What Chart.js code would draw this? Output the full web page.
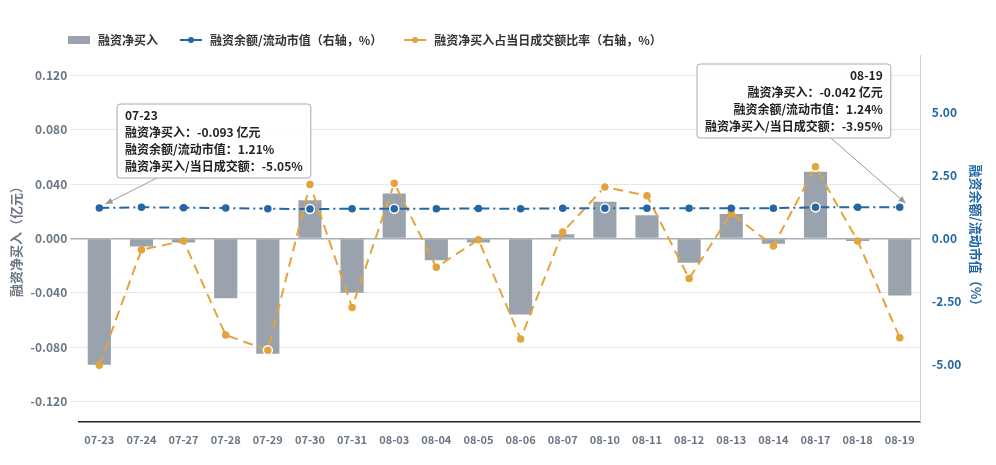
<!DOCTYPE html>
<html><head><meta charset="utf-8">
<script src="https://cdn.jsdelivr.net/npm/chart.js@4/dist/chart.umd.min.js"></script>
<style>body{margin:0;background:#fff}#w{width:996px;height:465px}</style></head>
<body><div id="w"><canvas id="c"></canvas></div>
<script>
const categories=['07-23','07-24','07-27','07-28','07-29','07-30','07-31','08-03','08-04','08-05','08-06','08-07','08-10','08-11','08-12','08-13','08-14','08-17','08-18','08-19'];
const netBuy=[-0.093,-0.006,-0.003,-0.044,-0.085,0.028,-0.040,0.033,-0.016,-0.003,-0.056,0.003,0.027,0.017,-0.018,0.018,-0.004,0.049,-0.002,-0.042];
const marginRatio=[1.21,1.24,1.22,1.21,1.18,1.17,1.18,1.18,1.18,1.19,1.18,1.2,1.2,1.2,1.2,1.2,1.2,1.24,1.24,1.24];
const buyRatio=[-5.05,-0.45,-0.1,-3.85,-4.45,2.15,-2.75,2.2,-1.15,-0.05,-4.0,0.25,2.05,1.7,-1.6,1.0,-0.3,2.85,-0.1,-3.95];
const leftTicks=[-0.12,-0.08,-0.04,0,0.04,0.08,0.12];
const rightTicks=[-5,-2.5,0,2.5,5];
const notes=[{i:0,lines:['07-23','融资净买入：-0.093 亿元','融资余额/流动市值：1.21%','融资净买入/当日成交额：-5.05%'],align:'left',bx:117,by:104},
{i:19,lines:['08-19','融资净买入：-0.042 亿元','融资余额/流动市值：1.24%','融资净买入/当日成交额：-3.95%'],align:'right',bx:697,by:64}];
const F='"Noto Sans CJK SC","Noto Sans",sans-serif';
const hl=[4,5,7,12,17];
const bc=(c)=>categories.map((_,i)=>hl.includes(i)?'#fff':c);
const legendPlugin={id:'lg',afterDraw(ch){const x=ch.ctx;x.save();x.font='bold 12px '+F;x.textBaseline='middle';let cx=68;const cy=40;
ch.data.datasets.forEach((d,i)=>{if(i===0){x.fillStyle=d.backgroundColor;x.fillRect(cx,cy-4,22,8);}else{x.strokeStyle=d.borderColor;x.lineWidth=2;x.beginPath();x.moveTo(cx,cy);x.lineTo(cx+22,cy);x.stroke();x.fillStyle=d.borderColor;x.beginPath();x.arc(cx+11,cy,3,0,7);x.fill();}
x.fillStyle='#333';x.fillText(d.label,cx+30,cy);cx+=30+x.measureText(d.label).width+22;});x.restore();}};
const notePlugin={id:'notes',afterDraw(ch){const x=ch.ctx;
notes.forEach(n=>{const p=ch.getDatasetMeta(1).data[n.i];
x.save();x.font='bold 12px '+F;const w=Math.max(...n.lines.map(l=>x.measureText(l).width))+16;const h=n.lines.length*17+6;
const ax=n.align==='left'?n.bx+40:n.bx+w-60, ay=n.by+h;
x.strokeStyle='#999';x.lineWidth=1;x.beginPath();x.moveTo(ax,ay);x.lineTo(p.x+6,p.y-4);x.stroke();
const ang=Math.atan2(p.y-4-ay,p.x+6-ax);x.fillStyle='#999';x.beginPath();x.moveTo(p.x+6,p.y-4);
x.lineTo(p.x+6-8*Math.cos(ang-0.4),p.y-4-8*Math.sin(ang-0.4));x.lineTo(p.x+6-8*Math.cos(ang+0.4),p.y-4-8*Math.sin(ang+0.4));x.fill();
x.fillStyle='rgba(255,255,255,0.95)';x.strokeStyle='#aaa';x.beginPath();x.roundRect(n.bx,n.by,w,h,3);x.fill();x.stroke();
x.fillStyle='#222';x.textBaseline='top';x.textAlign=n.align;
n.lines.forEach((l,k)=>x.fillText(l,n.align==='left'?n.bx+8:n.bx+w-8,n.by+5+k*17));x.restore();});}};
new Chart(document.getElementById('c'),{data:{labels:categories,datasets:[
{type:'bar',label:'融资净买入',data:netBuy,backgroundColor:'#9aa3ad',yAxisID:'y',barPercentage:0.55,categoryPercentage:1,order:3},
{type:'line',label:'融资余额/流动市值（右轴，%）',data:marginRatio,borderColor:'#2467a4',backgroundColor:'#2467a4',borderWidth:2,borderDash:[10,4,2,4],pointRadius:categories.map((_,i)=>hl.includes(i)?4.5:3),pointBorderColor:bc('#2467a4'),pointBorderWidth:1.5,yAxisID:'y1',order:1},
{type:'line',label:'融资净买入占当日成交额比率（右轴，%）',data:buyRatio,borderColor:'#e3a43c',backgroundColor:'#e3a43c',borderWidth:2,borderDash:[10,6],pointRadius:categories.map((_,i)=>hl.includes(i)?4.5:3),pointBorderColor:bc('#e3a43c'),pointBorderWidth:1.5,yAxisID:'y1',order:2}]},
options:{responsive:true,maintainAspectRatio:false,animation:false,layout:{padding:{left:4,right:8,top:55,bottom:16}},
plugins:{tooltip:{enabled:false},legend:{display:false}},
scales:{x:{grid:{display:false},border:{color:'#222',width:1.5},ticks:{color:'#6b7683',font:{family:F,size:11,weight:'bold'}}},
y:{position:'left',min:-0.135,max:0.135,afterBuildTicks:a=>{a.ticks=leftTicks.map(v=>({value:v}))},ticks:{color:'#6b7683',font:{family:F,size:12,weight:'bold'},callback:v=>v.toFixed(3)},
grid:{color:c=>c.tick&&c.tick.value===0?'#aab0b6':'#e6e6e6',lineWidth:c=>c.tick&&c.tick.value===0?1.5:1},border:{display:false},
title:{display:true,text:'融资净买入（亿元）',color:'#6b7683',font:{family:F,size:13,weight:'bold'}}},
y1:{position:'right',min:-7.3,max:7.3,afterBuildTicks:a=>{a.ticks=rightTicks.map(v=>({value:v}))},ticks:{color:'#2467a4',font:{family:F,size:12,weight:'bold'},callback:v=>v.toFixed(2)},
grid:{display:false,drawTicks:true},border:{color:'#c9d3dc'},
title:{display:true,text:'融资余额/流动市值（%）',color:'#2467a4',font:{family:F,size:13,weight:'bold'}}}}},
plugins:[notePlugin,legendPlugin]});
</script></body></html>
